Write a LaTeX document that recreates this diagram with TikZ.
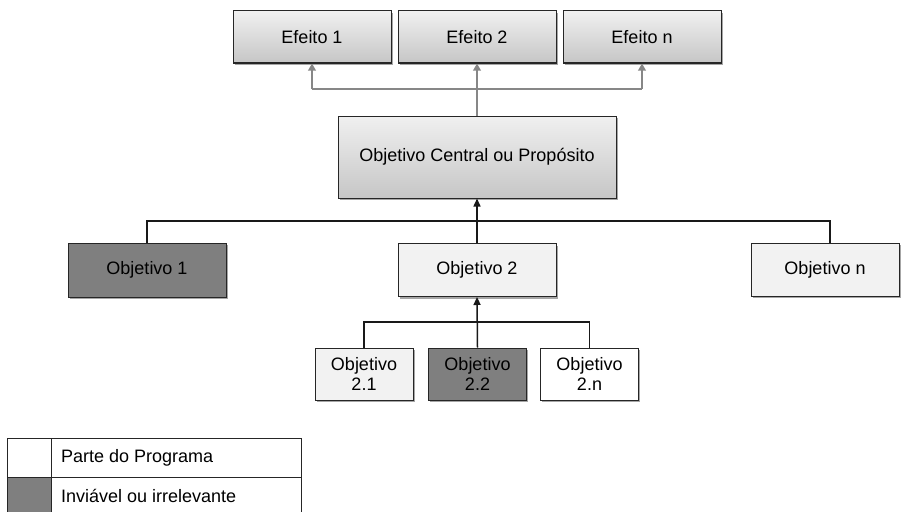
\documentclass[tikz,border=0pt]{standalone}
\usepackage{fontspec}
\setmainfont{Liberation Sans}
\usetikzlibrary{shadows,arrows.meta}

\definecolor{edgegray}{RGB}{38,38,38}
\definecolor{gradtop}{RGB}{240,240,240}
\definecolor{gradbot}{RGB}{198,198,198}
\definecolor{paleFill}{RGB}{242,242,242}
\definecolor{darkFill}{RGB}{127,127,127}
\definecolor{linkgray}{RGB}{135,135,135}

\tikzset{
  basebox/.style={draw=edgegray, line width=1pt, inner sep=0pt, align=center,
    font=\fontsize{18}{19.5}\selectfont,
    drop shadow={shadow xshift=1.6pt, shadow yshift=-2.2pt, opacity=0.35, fill=black}},
  gradbox/.style={basebox, top color=gradtop, bottom color=gradbot,
    minimum width=158pt, minimum height=52pt},
  palebox/.style={basebox, fill=paleFill, minimum width=158pt, minimum height=53pt},
  darkbox/.style={basebox, fill=darkFill, minimum width=158pt, minimum height=54pt},
  whitebox/.style={basebox, fill=white},
  subbox/.style={minimum width=98pt, minimum height=52pt},
  graylink/.style={draw=linkgray, line width=2.6pt},
  grayarrow/.style={graylink, -{Triangle[length=7pt,width=7.5pt]}},
  blacklink/.style={draw=black!90, line width=1.5pt},
  blackarrow/.style={blacklink, -{Triangle[length=8pt,width=7pt]}},
  legcell/.style={draw=edgegray, line width=0.9pt, anchor=north west, inner sep=0pt},
  legtext/.style={anchor=west, font=\fontsize{18}{18.5}\selectfont, inner sep=0pt}
}

\begin{document}
\begin{tikzpicture}[x=1pt, y=-1pt]
  \useasboundingbox (0,0) rectangle (904,511);

  % effects
  \node[gradbox] (e1) at (312,37) {Efeito 1};
  \node[gradbox] (e2) at (477,37) {Efeito 2};
  \node[gradbox] (en) at (642,37) {Efeito n};

  % central objective
  \node[gradbox, minimum width=278pt, minimum height=82pt] (c) at (477,157)
    {Objetivo Central ou Propósito};

  % first-level objectives
  \node[darkbox] (o1) at (147,270) {Objetivo 1};
  \node[palebox] (o2) at (477,270) {Objetivo 2};
  \node[palebox, minimum width=148pt] (on) at (825,269.5) {Objetivo n};

  % second-level objectives
  \node[palebox, subbox] (s1) at (364,374) {Objetivo\\2.1};
  \node[darkbox, subbox] (s2) at (477.5,374) {Objetivo\\2.2};
  \node[whitebox, subbox] (sn) at (589.5,374) {Objetivo\\2.n};

  % gray links from the central objective to the effects
  \coordinate (gtop) at (477,89);
  \draw[graylink] (c.north) -- (gtop);
  \draw[graylink] (gtop -| e1.south) -- (gtop -| en.south);
  \draw[grayarrow] (gtop -| e1.south) -- (e1.south);
  \draw[grayarrow] (gtop) -- (e2.south);
  \draw[grayarrow] (gtop -| en.south) -- (en.south);

  % objectives feeding the central objective
  \coordinate (jmid) at (477,221);
  \coordinate (jn) at (830,221);
  \draw[blacklink] (o1.north) |- (jn) -- (jn |- on.north);
  \draw[blackarrow] (o2.north) -- (c.south);

  % sub-objectives feeding Objetivo 2
  \coordinate (jsub) at (477,322);
  \draw[blacklink] (s1.north) |- (jsub) -| (sn.north);
  \draw[blackarrow] (s2.north) -- (o2.south);

  % legend
  \node[legcell, fill=white, minimum width=44pt, minimum height=39pt] (k1) at (7,438) {};
  \node[legcell, minimum width=250pt, minimum height=39pt] (t1) at (51,438) {};
  \node[legcell, fill=darkFill, minimum width=44pt, minimum height=40pt] (k2) at (7,477) {};
  \node[legcell, minimum width=250pt, minimum height=40pt] (t2) at (51,477) {};
  \node[legtext] (l1) at ([xshift=10pt]t1.west) {Parte do Programa};
  \node[legtext] (l2) at ([xshift=10pt,yshift=1pt]t2.west) {Inviável ou irrelevante};
\end{tikzpicture}
\end{document}
